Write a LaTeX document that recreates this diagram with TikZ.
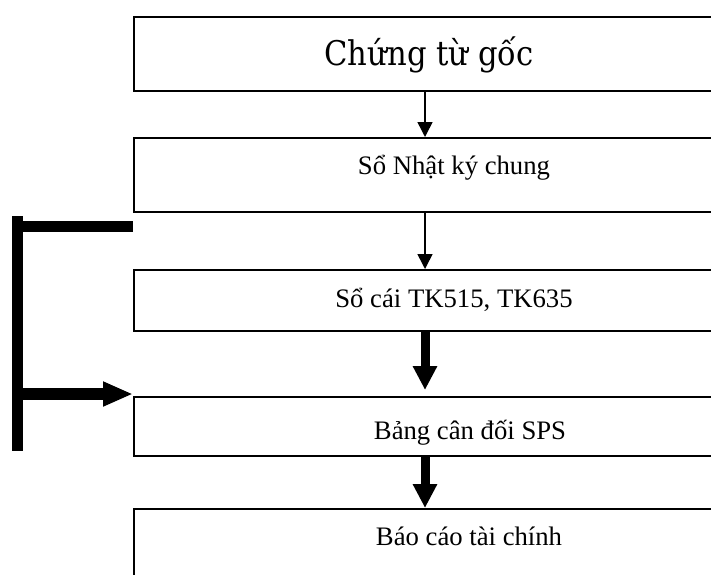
\documentclass[tikz,border=0pt]{standalone}
\usepackage{fontspec}
\setmainfont{Liberation Serif}
\newfontfamily\titlefont{DejaVu Serif Condensed}
\usetikzlibrary{arrows.meta}
\begin{document}
\begin{tikzpicture}[x=1pt,y=-1pt,
  box/.style={draw,line width=1.5pt,minimum width=642pt,anchor=north west,inner sep=0pt},
  lbl/.style={font=\fontsize{26.7}{30}\selectfont,anchor=base,inner sep=0pt},
  ttl/.style={font=\titlefont\fontsize{34}{38}\selectfont,anchor=base,inner sep=0pt},
  thinarrow/.style={line width=1.5pt,-{Triangle[width=15pt,length=15pt]}},
  thickarrow/.style={line width=9pt,-{Triangle[width=23pt,length=24pt]}},
  sidearrow/.style={line width=12pt,-{Triangle[width=23pt,length=30pt]}},
  bar/.style={line width=11pt}]
\useasboundingbox (0,0) rectangle (711,574);
\clip (0,0) rectangle (711,574);

% boxes of the bookkeeping chain
\node[box,minimum height=74pt] (b1) at (133,16) {};
\node[box,minimum height=74pt] (b2) at (133,137) {};
\node[box,minimum height=61pt] (b3) at (133,269) {};
\node[box,minimum height=59pt] (b4) at (133,396) {};
\node[box,minimum height=90pt] (b5) at (133,508) {};

% box captions
\node[ttl] (t1) at (429,65) {Chứng từ gốc};
\node[lbl] (t2) at (454,174) {Sổ Nhật ký chung};
\node[lbl] (t3) at (454,307) {Sổ cái TK515, TK635};
\node[lbl] (t4) at (470,439) {Bảng cân đối SPS};
\node[lbl] (t5) at (469,545) {Báo cáo tài chính};

% vertical flow
\coordinate (ax) at (425,0);
\coordinate (s4) at ([yshift=6pt]b4.north west);
\draw[thinarrow] (b1.south west -| ax) -- (b2.north west -| ax);
\draw[thinarrow] (b2.south west -| ax) -- (b3.north west -| ax);
\draw[thickarrow] (b3.south west -| ax) -- (s4 -| ax);
\draw[thickarrow] (b4.south west -| ax) -- (b5.north west -| ax);

% side bracket feeding the balance sheet
\coordinate (vt) at (17.5,216);
\coordinate (vb) at (17.5,451);
\coordinate (hl) at (23,226.5);
\coordinate (hr) at (133,226.5);
\coordinate (la) at ([yshift=2pt]b4.north west);
\draw[bar] (vt) -- (vb);
\draw[bar] (hl) -- (hr);
\draw[sidearrow] (vt |- la) -- (la);
\end{tikzpicture}
\end{document}
